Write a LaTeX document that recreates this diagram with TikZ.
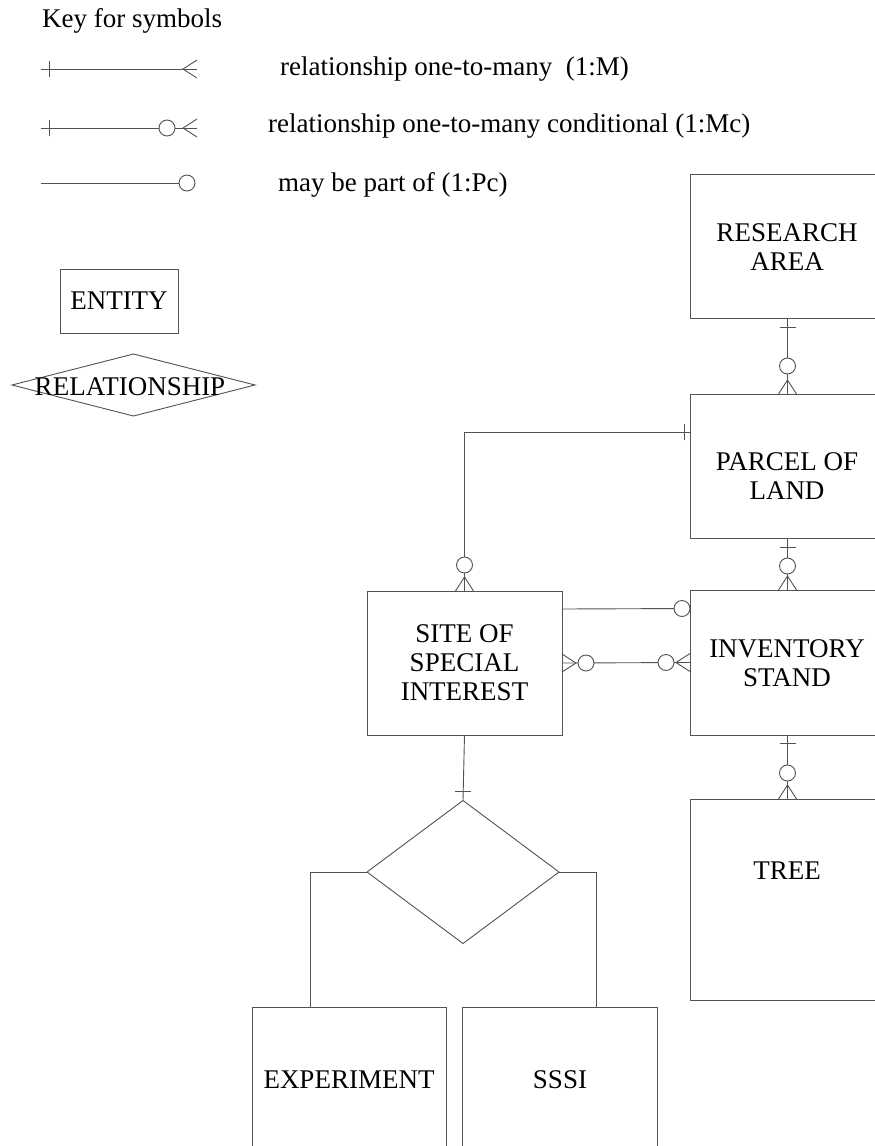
\documentclass[tikz,border=0pt]{standalone}
\usepackage{fontspec}
\setmainfont{Liberation Serif}
\usetikzlibrary{shapes.geometric}
\begin{document}
\begin{tikzpicture}[x=1pt,y=-1pt,
  ln/.style={draw=black!68,line width=0.9pt},
  box/.style={ln,rectangle,inner sep=0pt,outer sep=0pt,anchor=north west},
  rel/.style={ln,diamond,inner sep=0pt,outer sep=0pt},
  lbl/.style={font=\fontsize{27}{29}\selectfont,align=center,inner sep=0pt,text=black},
  pics/tickmark/.style={code={\draw[ln] (-8pt,0) -- (8pt,0);}},
  pics/ring/.style={code={\draw[ln,fill=white] (0,0) circle (8pt);}},
  pics/crow/.style={code={\draw[ln] (-9pt,0) -- (0,14pt) -- (9pt,0);}},
]
\clip (0,0) rectangle (875,1146);

% ---------- key ----------
\node[lbl,anchor=base west] (keyttl) at (42,27) {Key for symbols};

\coordinate (k1a) at (41,69);  \coordinate (k1b) at (197,69);
\draw[ln] (k1a) -- (k1b);
\pic[rotate=90] at ([xshift=8pt]k1a) {tickmark};
\pic[rotate=90] at (k1b) {crow};
\node[lbl,anchor=base west] (k1t) at (280,75) {relationship one-to-many\ \ (1:M)};

\coordinate (k2a) at (41,128); \coordinate (k2b) at (197,128);
\draw[ln] (k2a) -- (k2b);
\pic[rotate=90] at ([xshift=8pt]k2a) {tickmark};
\pic at ([xshift=-30pt]k2b) {ring};
\pic[rotate=90] at (k2b) {crow};
\node[lbl,anchor=base west] (k2t) at (268,132) {relationship one-to-many conditional (1:Mc)};

\coordinate (k3a) at (41,183); \coordinate (k3b) at (195,183);
\draw[ln] (k3a) -- (k3b);
\pic at ([xshift=-8pt]k3b) {ring};
\node[lbl,anchor=base west] (k3t) at (278,191) {may be part of (1:Pc)};

\node[box,minimum width=118pt,minimum height=64pt] (keyent) at (60,269) {};
\node[lbl] (keyentt) at (keyent.center) {ENTITY};
\node[rel,minimum width=243pt,minimum height=62pt] (keyrel) at (133.5,385) {};
\node[lbl,anchor=base] (keyrelt) at (130,395) {RELATIONSHIP};

% ---------- entities ----------
\node[box,minimum width=195pt,minimum height=144pt] (ra)   at (690,174) {};
\node[box,minimum width=195pt,minimum height=144pt] (pol)  at (690,394) {};
\node[box,minimum width=195pt,minimum height=145pt] (inv)  at (690,590) {};
\node[box,minimum width=195pt,minimum height=201pt] (tree) at (690,799) {};
\node[box,minimum width=195pt,minimum height=144pt] (site) at (367,591) {};
\node[box,minimum width=194pt,minimum height=200pt] (exp)  at (252,1007) {};
\node[box,minimum width=195pt,minimum height=200pt] (sssi) at (462,1007) {};
\node[rel,minimum width=192pt,minimum height=143pt] (dia)  at (463,872) {};

\node[lbl] (ra-t)   at (787,247.5) {RESEARCH\\AREA};
\node[lbl] (pol-t)  at (787,476)   {PARCEL OF\\LAND};
\node[lbl] (inv-t)  at (787,663.5) {INVENTORY\\STAND};
\node[lbl] (tree-t) at (787,871)   {TREE};
\node[lbl] (site-t) at (site.center) {SITE OF\\SPECIAL\\INTEREST};
\node[lbl] (exp-t)  at (349,1080)  {EXPERIMENT};
\node[lbl] (sssi-t) at (560,1080)  {SSSI};

% ---------- relationships ----------
% research area -- parcel of land
\draw[ln] (ra.south) -- (pol.north);
\pic at ([yshift=-9pt]ra.south) {tickmark};
\pic at ([yshift=-48pt]ra.south) {ring};
\pic at (pol.north) {crow};

% parcel of land -- inventory stand
\draw[ln] (pol.south) -- (inv.north);
\pic at ([yshift=-9pt]pol.south) {tickmark};
\pic at ([yshift=-28pt]pol.south) {ring};
\pic at (inv.north) {crow};

% inventory stand -- tree
\draw[ln] (inv.south) -- (tree.north);
\pic at ([yshift=-8pt]inv.south) {tickmark};
\pic at ([yshift=-38pt]inv.south) {ring};
\pic at (tree.north) {crow};

% parcel of land -- site of special interest
\draw[ln] (site.north) |- ([yshift=34pt]pol.west);
\pic[rotate=90] at ([xshift=-6pt,yshift=34pt]pol.west) {tickmark};
\pic at ([yshift=26pt]site.north) {ring};
\pic at (site.north) {crow};

% site -- inventory stand (may be part of)
\draw[ln] ([yshift=54pt]site.east) -- ([yshift=54pt]inv.west);
\pic at ([xshift=-8pt,yshift=54pt]inv.west) {ring};

% site -- inventory stand (conditional many-to-many)
\draw[ln] (site.east) -- (inv.west);
\pic[rotate=-90] at (site.east) {crow};
\pic at ([xshift=24pt]site.east) {ring};
\pic at ([xshift=-24pt]inv.west) {ring};
\pic[rotate=90] at (inv.west) {crow};

% site -- subtypes
\draw[ln] (site.south) -- (dia.north);
\pic at ([yshift=9pt]dia.north) {tickmark};
\draw[ln] (dia.west) -| ([xshift=-39pt]exp.north);
\draw[ln] (dia.east) -| ([xshift=36.5pt]sssi.north);
\end{tikzpicture}
\end{document}
